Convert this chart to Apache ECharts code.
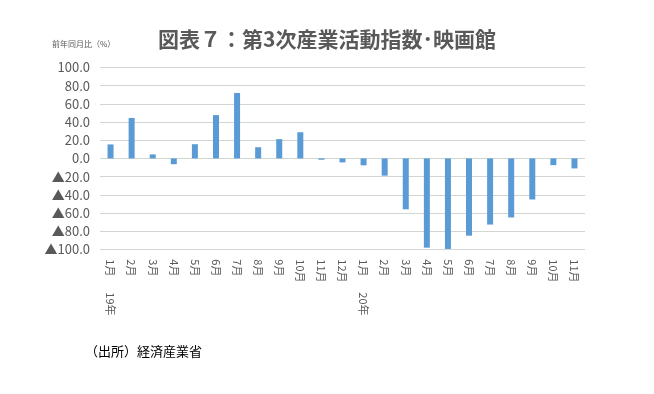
<!DOCTYPE html>
<html><head><meta charset="utf-8">
<script src="https://cdn.jsdelivr.net/npm/echarts@6/dist/echarts.min.js"></script>
<style>html,body{margin:0;padding:0;background:#fff}#c{width:654px;height:394px}</style>
</head><body><div id="c"></div>
<script>
var months = ['1月','2月','3月','4月','5月','6月','7月','8月','9月','10月','11月','12月','1月','2月','3月','4月','5月','6月','7月','8月','9月','10月','11月'];
var years = ['19年','','','','','','','','','','','','20年','','','','','','','','','',''];
var values = [15.4, 44.5, 4.4, -6.4, 15.6, 47.6, 72.0, 12.3, 21.2, 28.8, -1.5, -4.4, -7.6, -19.0, -56.0, -98.2, -99.6, -85.0, -72.8, -65.0, -45.2, -7.4, -11.0];
var yTicks = {min: -100, max: 100, interval: 20};
var FONT = '"Noto Sans CJK JP", "Noto Sans", sans-serif';
var chart = echarts.init(document.getElementById('c'));
chart.setOption({
  animation: false,
  backgroundColor: '#fff',
  title: [{
    text: '図表７：第3次産業活動指数･映画館',
    left: 322, top: 24, textAlign: 'center',
    textStyle: {fontFamily: FONT, fontSize: 21, fontWeight: 'bold', color: '#595959'}
  }, {
    text: '前年同月比（%）',
    left: 47, top: 35,
    textStyle: {fontFamily: FONT, fontSize: 8, fontWeight: 'normal', color: '#595959'}
  }, {
    text: '（出所）経済産業省',
    left: 80, top: 340,
    textStyle: {fontFamily: FONT, fontSize: 13, fontWeight: 'normal', color: '#000'}
  }],
  grid: {left: 100, right: 69, top: 67.5, bottom: 144.7, containLabel: false},
  xAxis: [{
    type: 'category', data: months, position: 'bottom',
    axisLine: {show: false}, axisTick: {show: false},
    axisLabel: {rotate: -90, margin: 10, fontFamily: FONT, fontSize: 11, color: '#595959', interval: 0}
  }, {
    type: 'category', data: years, position: 'bottom', offset: 35,
    axisLine: {show: false}, axisTick: {show: false},
    axisLabel: {rotate: -90, margin: 8, fontFamily: FONT, fontSize: 11, color: '#595959', interval: 0}
  }],
  yAxis: {
    type: 'value', min: yTicks.min, max: yTicks.max, interval: yTicks.interval,
    axisLine: {show: false}, axisTick: {show: false},
    splitLine: {lineStyle: {color: '#d0d6d0', width: 1}},
    axisLabel: {
      margin: 10, fontFamily: FONT, fontSize: 13, color: '#595959',
      formatter: function (v) { return v < 0 ? '▲' + Math.abs(v).toFixed(1) : v.toFixed(1); }
    }
  },
  series: [{
    type: 'bar', data: values, xAxisIndex: 0, barWidth: 6,
    itemStyle: {color: '#5b9bd5'}
  }]
});
</script></body></html>
